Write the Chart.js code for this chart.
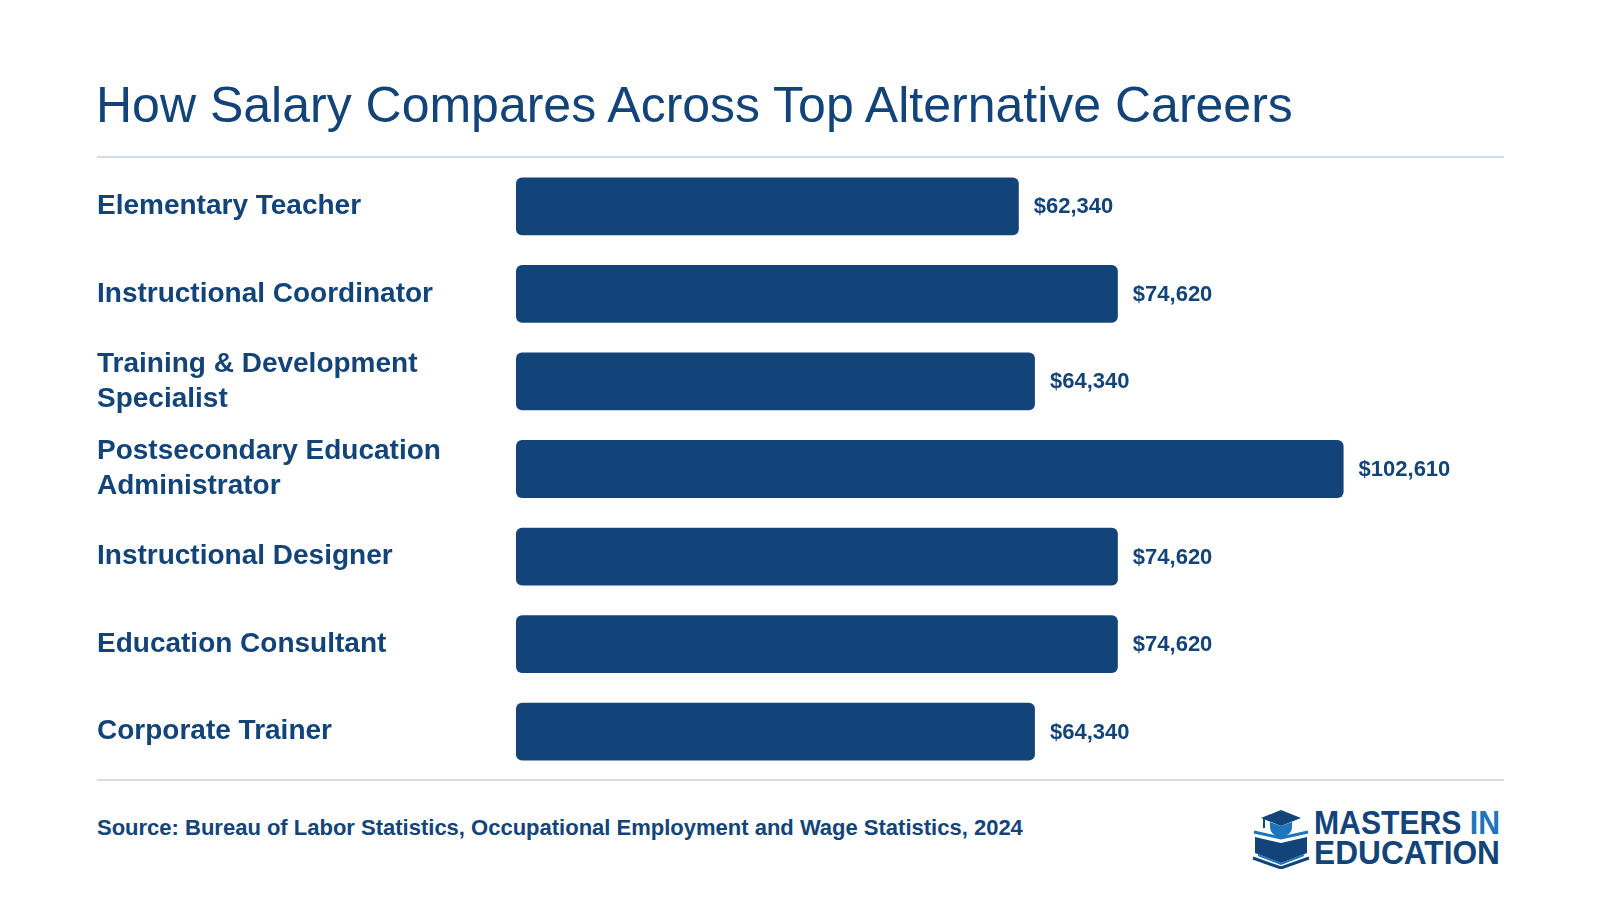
<!DOCTYPE html>
<html>
<head>
<meta charset="utf-8">
<script src="https://cdn.jsdelivr.net/npm/chart.js@4.4.1/dist/chart.umd.min.js"></script>
<style>
  html, body { margin: 0; padding: 0; background: #fff; }
  body { width: 1600px; height: 900px; position: relative; overflow: hidden; font-family: "Liberation Sans", Arial, sans-serif; color: #12447a; }
  #title { position: absolute; left: 96px; top: 80px; font-size: 50px; line-height: 50px; font-weight: normal; white-space: nowrap; }
  .rule { position: absolute; left: 97px; width: 1407px; height: 2px; background: #d3dde8; }
  #chartBox { position: absolute; left: 97px; top: 145px; width: 1407px; height: 648px; }
  #source { position: absolute; left: 97px; top: 817px; font-size: 22px; line-height: 22px; font-weight: bold; white-space: nowrap; }
  #logo { position: absolute; left: 1250px; top: 805px; }
</style>
</head>
<body>
<div id="title">How Salary Compares Across Top Alternative Careers</div>
<div class="rule" style="top:156px"></div>
<div class="rule" style="top:779px"></div>
<div id="chartBox"><canvas id="salaryChart"></canvas></div>
<div id="source">Source: Bureau of Labor Statistics, Occupational Employment and Wage Statistics, 2024</div>

<svg id="logo" width="260" height="64" viewBox="0 0 260 64">
  <!-- birrete -->
  <polygon points="31,5 51,13 31,21 11,13" fill="#12447a"/>
  <path d="M20,17 L20,22 A11,10 0 0 0 42,22 L42,17 L31,21 Z" fill="#1d75bb"/>
  <line x1="14" y1="14" x2="14" y2="23" stroke="#12447a" stroke-width="2"/>
  <!-- libro -->
  <path d="M4,27 L31,33 L58,27" fill="none" stroke="#1d75bb" stroke-width="3"/>
  <path d="M5,32 L31,38 L57,32 L57,48 L31,58 L5,48 Z" fill="#12447a"/>
  <path d="M8,50 L31,59 L54,50" fill="none" stroke="#1d75bb" stroke-width="2"/>
  <path d="M3,53 L31,63 L59,53" fill="none" stroke="#12447a" stroke-width="3"/>
  <text x="64" y="29" font-family="Liberation Sans Narrow, Liberation Sans, Arial" font-weight="bold" font-size="33" textLength="186" lengthAdjust="spacingAndGlyphs" fill="#12447a">MASTERS <tspan fill="#1d75bb">IN</tspan></text>
  <text x="64" y="59" font-family="Liberation Sans Narrow, Liberation Sans, Arial" font-weight="bold" font-size="33" textLength="186" lengthAdjust="spacingAndGlyphs" fill="#12447a">EDUCATION</text>
</svg>

<script>
const careers = [
  'Elementary Teacher',
  'Instructional Coordinator',
  ['Training & Development', 'Specialist'],
  ['Postsecondary Education', 'Administrator'],
  'Instructional Designer',
  'Education Consultant',
  'Corporate Trainer'
];
const salaries = [62340, 74620, 64340, 102610, 74620, 74620, 64340];

const navy = '#12447a';

// Etiquetas de valor al final de cada barra
const valueLabels = {
  id: 'valueLabels',
  afterDatasetsDraw(chart) {
    const ctx = chart.ctx;
    const meta = chart.getDatasetMeta(0);
    ctx.save();
    ctx.font = 'bold 22px "Liberation Sans", Arial, sans-serif';
    ctx.fillStyle = navy;
    ctx.textAlign = 'left';
    ctx.textBaseline = 'middle';
    meta.data.forEach((bar, i) => {
      const value = chart.data.datasets[0].data[i];
      ctx.fillText('$' + value.toLocaleString('en-US'), bar.x + 15, bar.y + 1);
    });
    ctx.restore();
  }
};

new Chart(document.getElementById('salaryChart'), {
  type: 'bar',
  data: {
    labels: careers,
    datasets: [{
      data: salaries,
      backgroundColor: navy,
      borderRadius: 6,
      borderSkipped: false,
      categoryPercentage: 1,
      barPercentage: 0.66
    }]
  },
  options: {
    indexAxis: 'y',
    responsive: true,
    maintainAspectRatio: false,
    animation: false,
    layout: { padding: 0 },
    plugins: {
      legend: { display: false },
      tooltip: { enabled: false }
    },
    scales: {
      x: {
        display: false,
        min: 0,
        max: 122500
      },
      y: {
        grid: { display: false },
        border: { display: false },
        afterFit: (scale) => { scale.width = 419; },
        ticks: {
          crossAlign: 'far',
          color: navy,
          padding: 0,
          font: { family: '"Liberation Sans", Arial, sans-serif', size: 28, weight: 'bold', lineHeight: 1.25 }
        }
      }
    }
  },
  plugins: [valueLabels]
});
</script>
</body>
</html>
